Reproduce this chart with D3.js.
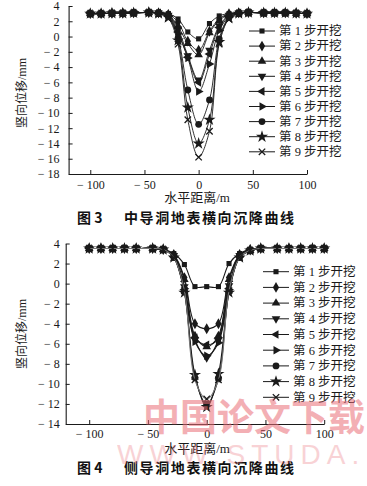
<!DOCTYPE html>
<html>
<head>
<meta charset="utf-8">
<script src="https://cdn.jsdelivr.net/npm/d3@7"></script>
<style>
  body { margin: 0; background: #fff; }
  svg { display: block; }
</style>
</head>
<body>
<div id="chart"></div>
<script>
// 水平距离 (m)
const distances = [-100, -90, -80, -70, -60, -46, -37, -28, -19, -10, 0, 10, 19, 28, 37, 46, 60, 70, 80, 90, 100];
const stepLabels = ["第 1 步开挖", "第 2 步开挖", "第 3 步开挖", "第 4 步开挖", "第 5 步开挖",
                    "第 6 步开挖", "第 7 步开挖", "第 8 步开挖", "第 9 步开挖"];
const xTicks = [-100, -50, 0, 50, 100];
const yTicksFig3 = [4, 2, 0, -2, -4, -6, -8, -10, -12, -14, -16, -18];
const yTicksFig4 = [4, 2, 0, -2, -4, -6, -8, -10, -12, -14];

// 图3 中导洞 竖向位移 (mm)
const fig3Values = [
  [3.0, 3.0, 3.05, 3.05, 3.1, 3.15, 3.15, 3.0, 2.3, 0.6, -0.3, 1.7, 2.7, 3.0, 3.1, 3.15, 3.1, 3.1, 3.1, 3.05, 3.0],
  [3.0, 3.0, 3.05, 3.05, 3.1, 3.15, 3.1, 2.9, 1.9, -0.6, -1.8, 0.7, 2.3, 3.0, 3.1, 3.15, 3.1, 3.1, 3.1, 3.05, 3.0],
  [3.0, 3.0, 3.05, 3.05, 3.1, 3.15, 3.1, 2.9, 1.3, -0.9, -2.4, 0.5, 2.1, 2.9, 3.1, 3.15, 3.1, 3.1, 3.1, 3.05, 3.0],
  [3.0, 3.0, 3.05, 3.05, 3.1, 3.15, 3.1, 2.8, 1.0, -2.5, -5.7, -1.8, 1.4, 2.8, 3.1, 3.15, 3.1, 3.1, 3.1, 3.05, 3.0],
  [3.0, 3.0, 3.05, 3.05, 3.1, 3.15, 3.1, 2.8, 0.6, -2.7, -6.0, -2.3, 1.2, 2.7, 3.1, 3.15, 3.1, 3.1, 3.1, 3.05, 3.0],
  [3.0, 3.0, 3.05, 3.05, 3.1, 3.15, 3.05, 2.7, 0.35, -2.8, -7.2, -3.6, 0.8, 2.6, 3.05, 3.15, 3.1, 3.1, 3.1, 3.05, 3.0],
  [3.0, 3.0, 3.05, 3.05, 3.1, 3.15, 3.0, 2.6, -0.2, -7.0, -11.5, -8.3, -0.3, 2.5, 3.0, 3.15, 3.1, 3.1, 3.1, 3.05, 3.0],
  [3.0, 3.0, 3.05, 3.05, 3.1, 3.15, 3.0, 2.5, -0.5, -9.3, -14.0, -10.9, -0.7, 2.4, 3.0, 3.15, 3.1, 3.1, 3.1, 3.05, 3.0],
  [3.0, 3.0, 3.05, 3.05, 3.1, 3.15, 3.0, 2.4, -1.0, -10.9, -15.8, -12.4, -1.0, 2.3, 3.0, 3.15, 3.1, 3.1, 3.1, 3.05, 3.0]
];

// 图4 侧导洞 竖向位移 (mm)
const fig4Values = [
  [3.5, 3.5, 3.5, 3.5, 3.5, 3.5, 3.4, 3.0, 1.9, -0.3, -0.3, -0.3, 2.0, 3.0, 3.4, 3.5, 3.5, 3.5, 3.5, 3.5, 3.5],
  [3.5, 3.5, 3.5, 3.5, 3.5, 3.5, 3.4, 2.9, 0.6, -4.0, -4.5, -4.0, 0.6, 2.9, 3.4, 3.5, 3.5, 3.5, 3.5, 3.5, 3.5],
  [3.5, 3.5, 3.5, 3.5, 3.5, 3.5, 3.4, 2.8, 0.4, -5.2, -6.3, -5.2, 0.4, 2.8, 3.3, 3.5, 3.5, 3.5, 3.5, 3.5, 3.5],
  [3.5, 3.5, 3.5, 3.5, 3.5, 3.5, 3.4, 2.8, -0.3, -5.6, -7.4, -5.6, -0.2, 2.8, 3.3, 3.5, 3.5, 3.5, 3.5, 3.5, 3.5],
  [3.5, 3.5, 3.5, 3.5, 3.5, 3.5, 3.4, 2.7, -0.6, -5.4, -6.1, -5.5, -0.5, 2.7, 3.3, 3.5, 3.5, 3.5, 3.5, 3.5, 3.5],
  [3.5, 3.5, 3.5, 3.5, 3.5, 3.5, 3.4, 2.7, -0.5, -5.8, -7.2, -5.9, -0.6, 2.7, 3.3, 3.5, 3.5, 3.5, 3.5, 3.5, 3.5],
  [3.5, 3.5, 3.5, 3.5, 3.5, 3.5, 3.4, 2.6, -0.8, -9.4, -12.0, -9.5, -0.8, 2.6, 3.3, 3.5, 3.5, 3.5, 3.5, 3.5, 3.5],
  [3.5, 3.5, 3.5, 3.5, 3.5, 3.5, 3.4, 2.6, -0.9, -9.1, -12.3, -9.0, -0.9, 2.6, 3.3, 3.5, 3.5, 3.5, 3.5, 3.5, 3.5],
  [3.5, 3.5, 3.5, 3.5, 3.5, 3.5, 3.4, 2.6, -0.7, -9.6, -11.5, -9.6, -0.7, 2.6, 3.3, 3.5, 3.5, 3.5, 3.5, 3.5, 3.5]
];

(() => {
  const fontFamily = "'Liberation Serif', 'Noto Sans CJK SC', serif";
  const ink = "#1a1a1a";

  const svg = d3.select("#chart")
    .append("svg")
    .attr("width", 367)
    .attr("height", 486);

  // 每一步的标记形状
  const markers = [
    { type: d3.symbolSquare, size: 26, rot: 0 },
    { type: d3.symbolDiamond, size: 34, rot: 0 },
    { type: d3.symbolTriangle, size: 32, rot: 0 },
    { type: d3.symbolTriangle, size: 32, rot: 180 },
    { type: d3.symbolTriangle, size: 32, rot: -90 },
    { type: d3.symbolTriangle, size: 32, rot: 90 },
    { type: d3.symbolCircle, size: 36, rot: 0 },
    { type: d3.symbolStar, size: 46, rot: 0 },
    { type: "x", size: 3.2, rot: 0 }
  ];

  function addMarker(g, i, x, y, color) {
    const m = markers[i];
    if (m.type === "x") {
      const s = m.size;
      g.append("path")
        .attr("d", `M${x - s},${y - s}L${x + s},${y + s}M${x - s},${y + s}L${x + s},${y - s}`)
        .attr("fill", "none")
        .attr("stroke", color)
        .attr("stroke-width", 1.3);
    } else {
      g.append("path")
        .attr("d", d3.symbol().type(m.type).size(m.size)())
        .attr("transform", `translate(${x},${y}) rotate(${m.rot})`)
        .attr("fill", color);
    }
  }

  const fmt = v => v < 0 ? "\u2212 " + Math.abs(v) : String(v);

  function drawPanel(p) {
    const x = d3.scaleLinear().domain([-120, 100]).range(p.xRange);
    const y = d3.scaleLinear().domain(p.yDomain).range(p.yRange);
    const g = svg.append("g");

    // 坐标轴
    const yAxis = g.append("g")
      .attr("transform", `translate(${p.xRange[0]},0)`)
      .call(d3.axisLeft(y).tickValues(p.yTicks).tickSizeInner(-4).tickSizeOuter(0)
        .tickPadding(p.yPad).tickFormat(fmt));
    const xAxis = g.append("g")
      .attr("transform", `translate(0,${p.yRange[0]})`)
      .call(d3.axisBottom(x).tickValues(xTicks).tickSizeInner(-4).tickSizeOuter(0)
        .tickPadding(p.xPad).tickFormat(fmt));
    [yAxis, xAxis].forEach(a => {
      a.attr("font-family", fontFamily).attr("font-size", 12).attr("color", ink);
      a.select(".domain").attr("stroke-width", 1.1);
    });

    // 曲线
    const line = d3.line()
      .x((d, i) => x(distances[i]))
      .y(d => y(d))
      .curve(d3.curveCatmullRom.alpha(0.5));

    p.values.forEach((vals, si) => {
      g.append("path")
        .attr("d", line(vals))
        .attr("fill", "none")
        .attr("stroke", p.lineColors[si])
        .attr("stroke-width", p.lineWidth);
      const mg = g.append("g");
      vals.forEach((v, i) => addMarker(mg, si, x(distances[i]), y(v), ink));
    });

    // 图例
    const legend = g.append("g");
    stepLabels.forEach((label, i) => {
      const ly = p.legendY + i * p.legendStep;
      legend.append("line")
        .attr("x1", p.legendX).attr("x2", p.legendX + 26)
        .attr("y1", ly).attr("y2", ly)
        .attr("stroke", ink).attr("stroke-width", 1);
      addMarker(legend, i, p.legendX + 13, ly, ink);
      legend.append("text")
        .attr("x", p.legendX + 30)
        .attr("y", ly)
        .attr("dy", "0.35em")
        .attr("font-family", fontFamily)
        .attr("font-size", 12.5)
        .attr("fill", ink)
        .text(label);
    });

    // 轴标题
    g.append("text")
      .attr("transform", `translate(22,${p.yLabelY}) rotate(-90)`)
      .attr("text-anchor", "middle")
      .attr("dy", "0.35em")
      .attr("font-family", fontFamily)
      .attr("font-size", 12)
      .attr("fill", ink)
      .text("竖向位移/mm");

    g.append("text")
      .attr("x", 197)
      .attr("y", p.xLabelY)
      .attr("text-anchor", "middle")
      .attr("dy", "0.35em")
      .attr("font-family", fontFamily)
      .attr("font-size", 13)
      .attr("fill", ink)
      .text("水平距离/m");

    // 图名
    g.append("text")
      .attr("x", 77)
      .attr("y", p.titleY)
      .attr("dy", "0.35em")
      .attr("font-family", "'Noto Sans CJK SC', sans-serif")
      .attr("font-weight", "bold")
      .attr("font-size", 14)
      .attr("fill", "#111")
      .text(p.figNo);

    g.append("text")
      .attr("x", 124)
      .attr("y", p.titleY)
      .attr("dy", "0.35em")
      .attr("font-family", "'Noto Sans CJK SC', sans-serif")
      .attr("font-weight", "bold")
      .attr("font-size", 14)
      .attr("letter-spacing", 1.6)
      .attr("fill", "#111")
      .text(p.title);
  }

  drawPanel({
    values: fig3Values,
    xRange: [68.6, 307],
    yDomain: [-18, 4],
    yRange: [174, 6],
    yTicks: yTicksFig3,
    yPad: 9,
    xPad: 6.5,
    lineWidth: 0.9,
    lineColors: d3.range(9).map(() => ink),
    legendX: 249,
    legendY: 31,
    legendStep: 15.1,
    yLabelY: 93,
    xLabelY: 197,
    titleY: 218,
    figNo: "图 3",
    title: "中导洞地表横向沉降曲线"
  });

  drawPanel({
    values: fig4Values,
    xRange: [65.7, 324.2],
    yDomain: [-14, 4],
    yRange: [424, 243.5],
    yTicks: yTicksFig4,
    yPad: 6,
    xPad: 5,
    lineWidth: 1.1,
    lineColors: d3.range(9).map(i => i === 8 ? "#777" : ink),
    legendX: 263,
    legendY: 271.7,
    legendStep: 15.7,
    yLabelY: 334,
    xLabelY: 448,
    titleY: 468,
    figNo: "图 4",
    title: "侧导洞地表横向沉降曲线"
  });

  // 水印
  svg.append("text")
    .attr("x", 143)
    .attr("y", 418)
    .attr("dy", "0.35em")
    .attr("font-family", "'Noto Sans CJK SC', sans-serif")
    .attr("font-weight", "bold")
    .attr("font-size", 37)
    .attr("fill", "rgb(235,110,120)")
    .attr("opacity", 0.55)
    .text("中国论文下载");

  svg.append("text")
    .attr("x", 117)
    .attr("y", 454)
    .attr("dy", "0.35em")
    .attr("font-family", "'Liberation Sans', sans-serif")
    .attr("font-size", 28)
    .attr("letter-spacing", 6)
    .attr("fill", "rgb(235,110,120)")
    .attr("opacity", 0.3)
    .text("WWW.STUDA.");
})();
</script>
</body>
</html>
